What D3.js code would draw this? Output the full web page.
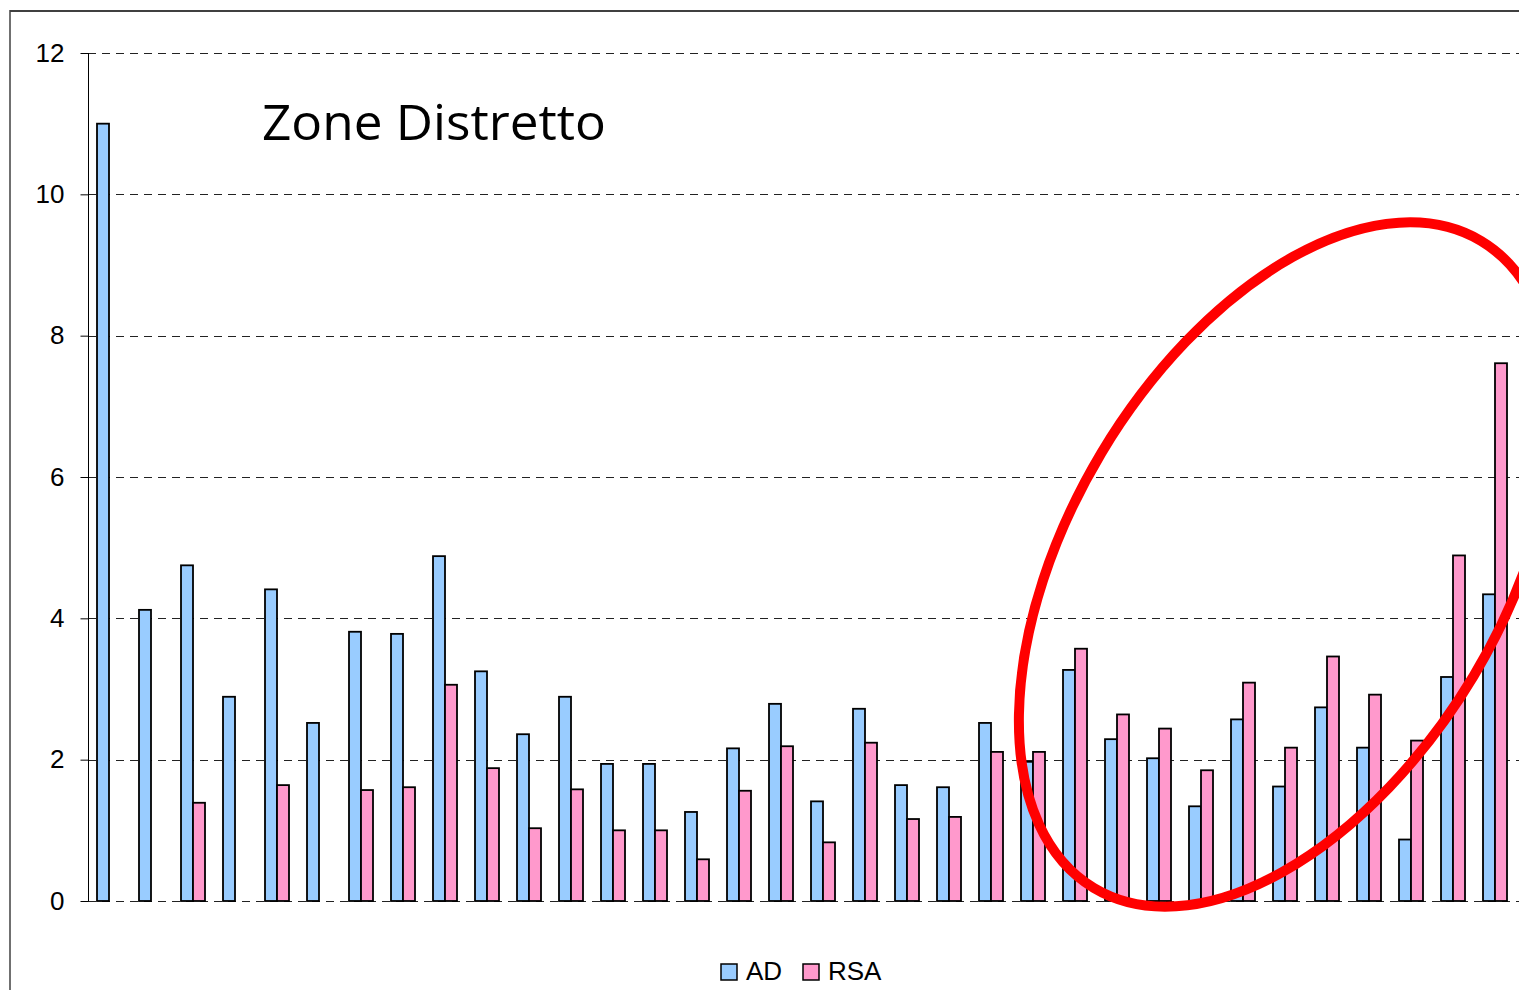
<!DOCTYPE html>
<html>
<head>
<meta charset="utf-8">
<script src="https://cdn.jsdelivr.net/npm/d3@7"></script>
<style>
  html, body { margin: 0; padding: 0; background: #fff; overflow: hidden; }
  svg { display: block; }
</style>
</head>
<body>
<svg id="chart" width="1519" height="990"></svg>
<script>
// ---- data ----
const categories = ["1","2","3","4","5","6","7","8","9","10","11","12","13","14","15","16","17",
                    "18","19","20","21","22","23","24","25","26","27","28","29","30","31","32","33","34"];
const seriesNames = ["AD", "RSA"];
const adValues  = [11.0, 4.12, 4.75, 2.89, 4.41, 2.52, 3.81, 3.78, 4.88, 3.25, 2.36, 2.89, 1.94, 1.94, 1.26, 2.16, 2.79,
                   1.41, 2.72, 1.64, 1.61, 2.52, 1.97, 3.27, 2.29, 2.02, 1.34, 2.57, 1.62, 2.74, 2.17, 0.87, 3.17, 4.34];
const rsaValues = [null, null, 1.39, null, 1.64, null, 1.57, 1.61, 3.06, 1.88, 1.03, 1.58, 1.00, 1.00, 0.59, 1.56, 2.19,
                   0.83, 2.24, 1.16, 1.19, 2.11, 2.11, 3.57, 2.64, 2.44, 1.85, 3.09, 2.17, 3.46, 2.92, 2.27, 4.89, 7.61];
const yTicks = [0, 2, 4, 6, 8, 10, 12];
const title = "Zone Distretto";

const colors = { AD: "#99CCFF", RSA: "#FF99CC" };

const svg = d3.select("#chart");
const plot = { left: 88, right: 1516, top: 53, bottom: 901 };

// frame
svg.append("line").attr("x1", 10).attr("x2", 1519).attr("y1", 11).attr("y2", 11)
  .attr("stroke", "#404040").attr("stroke-width", 2);
svg.append("line").attr("x1", 10).attr("x2", 10).attr("y1", 10).attr("y2", 990)
  .attr("stroke", "#404040").attr("stroke-width", 1.5);

// scales
const y = d3.scaleLinear().domain([0, 12]).range([plot.bottom, plot.top]);
const x0 = d3.scaleBand().domain(categories).range([plot.left, plot.right])
  .paddingInner(18 / 42).paddingOuter(9 / 42);
const x1 = d3.scaleBand().domain(seriesNames).range([0, x0.bandwidth()]);

// gridlines
svg.append("g").selectAll("line").data(yTicks).join("line")
  .attr("x1", plot.left).attr("x2", 1519)
  .attr("y1", d => Math.round(y(d)) + 0.5).attr("y2", d => Math.round(y(d)) + 0.5)
  .attr("stroke", "#222").attr("stroke-width", 1).attr("stroke-dasharray", "8,6");

// y axis
const yAxis = d3.axisLeft(y).tickValues(yTicks).tickSize(8).tickPadding(16).tickFormat(d3.format("d"));
const gy = svg.append("g").attr("transform", `translate(${plot.left + 0.5},0)`).call(yAxis);
gy.select(".domain").attr("stroke", "#000").attr("d", `M0,${y(12)}V${y(0)}`);
gy.selectAll(".tick line").attr("stroke", "#000");
gy.selectAll(".tick text").attr("font-family", "Liberation Sans, Arial, sans-serif")
  .attr("font-size", 26).attr("fill", "#000");

// bars
const rows = categories.map((c, i) => ({ cat: c, vals: [
  { key: "AD", v: adValues[i] }, { key: "RSA", v: rsaValues[i] } ] }));

const groups = svg.append("g").selectAll("g").data(rows).join("g")
  .attr("transform", d => `translate(${x0(d.cat)},0)`);
groups.selectAll("rect").data(d => d.vals.filter(e => e.v != null)).join("rect")
  .attr("x", d => x1(d.key))
  .attr("y", d => y(d.v))
  .attr("width", x1.bandwidth())
  .attr("height", d => y(0) - y(d.v))
  .attr("fill", d => colors[d.key])
  .attr("stroke", "#000").attr("stroke-width", 1.8);

// title
svg.append("text").attr("x", 262).attr("y", 140)
  .attr("font-family", "Open Sans, sans-serif").attr("font-size", 50)
  .attr("textLength", 344).attr("lengthAdjust", "spacingAndGlyphs")
  .attr("fill", "#000").text(title);

// legend
const legendItems = [
  { key: "AD", sx: 721, tx: 746 },
  { key: "RSA", sx: 803, tx: 828 }
];
const lg = svg.append("g");
lg.selectAll("rect").data(legendItems).join("rect")
  .attr("x", d => d.sx).attr("y", 964).attr("width", 16).attr("height", 16)
  .attr("fill", d => colors[d.key]).attr("stroke", "#000").attr("stroke-width", 1.5);
lg.selectAll("text").data(legendItems).join("text")
  .attr("x", d => d.tx).attr("y", 980)
  .attr("font-family", "Liberation Sans, Arial, sans-serif").attr("font-size", 26)
  .attr("fill", "#000").text(d => d.key);

// red annotation ellipse
svg.append("ellipse")
  .attr("cx", 0).attr("cy", 0).attr("rx", 377).attr("ry", 217)
  .attr("transform", "translate(1287.5,564.5) rotate(-59.1)")
  .attr("fill", "none").attr("stroke", "#FF0000").attr("stroke-width", 10);
</script>
</body>
</html>
